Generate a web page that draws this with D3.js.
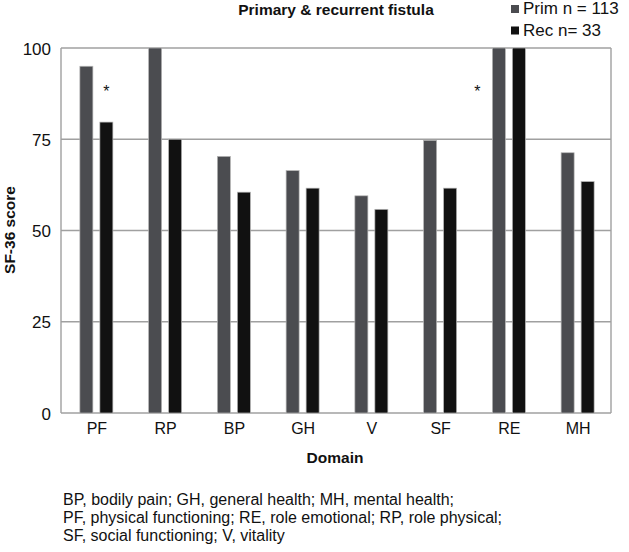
<!DOCTYPE html>
<html><head><meta charset="utf-8">
<script src="https://cdn.jsdelivr.net/npm/d3@7"></script>
<style>body{margin:0;background:#fff}svg{display:block}text{font-family:"Liberation Sans",Arial,sans-serif}</style>
</head><body>
<svg id="c" width="629" height="552"></svg>
<script>
const categories = ["PF","RP","BP","GH","V","SF","RE","MH"];
const series = ["Prim n = 113","Rec n= 33"];
const prim = [95,100,70.3,66.4,59.5,74.7,100,71.3];
const rec  = [79.7,75,60.5,61.6,55.8,61.6,100,63.4];
const yTicks = [0,25,50,75,100];
const asterisks = [{cat:"PF", side:1, v:88.8},{cat:"RE", side:-1, v:88.8}];
const footnote = ["BP, bodily pain; GH, general health; MH, mental health;",
  "PF, physical functioning; RE, role emotional; RP, role physical;",
  "SF, social functioning; V, vitality"];
const colors = ["#4b4c50","#111111"];

const svg = d3.select("#c");
const L=61,R=611,T=48,B=413;
const x0 = d3.scaleBand().domain(categories).range([L,R]).padding(0);
const x1 = d3.scaleBand().domain(series).range([1,x0.bandwidth()+1]).paddingInner(0.35).paddingOuter(0.894);
const y = d3.scaleLinear().domain([0,100]).range([B,T]);

// gridlines and frame
svg.append("g").selectAll("line").data(yTicks).join("line")
  .attr("x1",L).attr("x2",R).attr("y1",d=>y(d)).attr("y2",d=>y(d))
  .attr("stroke","#a0a0a0").attr("stroke-width",1.4);
svg.append("line").attr("x1",L).attr("x2",L).attr("y1",T).attr("y2",B).attr("stroke","#a0a0a0").attr("stroke-width",1.4);
svg.append("line").attr("x1",R).attr("x2",R).attr("y1",T).attr("y2",B).attr("stroke","#a0a0a0").attr("stroke-width",1.4);

// bars
const data = categories.map((c,i)=>({c, vals:[prim[i],rec[i]]}));
const g = svg.append("g").selectAll("g").data(data).join("g").attr("transform",d=>`translate(${x0(d.c)},0)`);
g.selectAll("rect").data(d=>d.vals.map((v,j)=>({v,j}))).join("rect")
  .attr("x",d=>x1(series[d.j])).attr("width",x1.bandwidth())
  .attr("y",d=>y(d.v)).attr("height",d=>y(0)-y(d.v))
  .attr("fill",d=>colors[d.j]).attr("stroke","#b4b4b4").attr("stroke-width",0.7);

// asterisks
svg.append("g").selectAll("text").data(asterisks).join("text")
  .attr("x",d=> d.side>0 ? x0(d.cat)+x1(series[1])+x1.bandwidth()/2 : x0(d.cat)+x1(series[0])-15)
  .attr("y",d=>y(d.v)+8).attr("text-anchor","middle").attr("font-size",16).attr("fill","#111").text("*");

// y axis labels
svg.append("g").selectAll("text").data(yTicks).join("text")
  .attr("x",51).attr("y",d=>y(d)+6.5).attr("text-anchor","end").attr("font-size",17).attr("fill","#111").text(d=>d);

// x labels
svg.append("g").selectAll("text").data(categories).join("text")
  .attr("x",d=>x0(d)+x0.bandwidth()/2+1.5).attr("y",434).attr("text-anchor","middle").attr("font-size",16).attr("fill","#111").text(d=>d);

svg.append("text").attr("x",335).attr("y",463).attr("text-anchor","middle").attr("font-size",15.5).attr("font-weight","bold").attr("fill","#111").text("Domain");
svg.append("text").attr("transform","translate(15,230) rotate(-90)").attr("text-anchor","middle").attr("font-size",15.5).attr("font-weight","bold").attr("fill","#111").text("SF-36 score");
svg.append("text").attr("x",336).attr("y",15).attr("text-anchor","middle").attr("font-size",15.5).attr("font-weight","bold").attr("fill","#111").text("Primary & recurrent fistula");

// legend
const lg = svg.append("g").selectAll("g").data(series).join("g").attr("transform",(d,i)=>`translate(511,${5+i*21.5})`);
lg.append("rect").attr("width",8).attr("height",8).attr("fill",(d,i)=>colors[i]);
lg.append("text").attr("x",12).attr("y",9).attr("font-size",17).attr("fill","#111").text(d=>d);

// footnote
svg.append("g").selectAll("text").data(footnote).join("text")
  .attr("x",63).attr("y",(d,i)=>505+i*18).attr("font-size",16).attr("fill","#111").text(d=>d);
</script>
</body></html>
